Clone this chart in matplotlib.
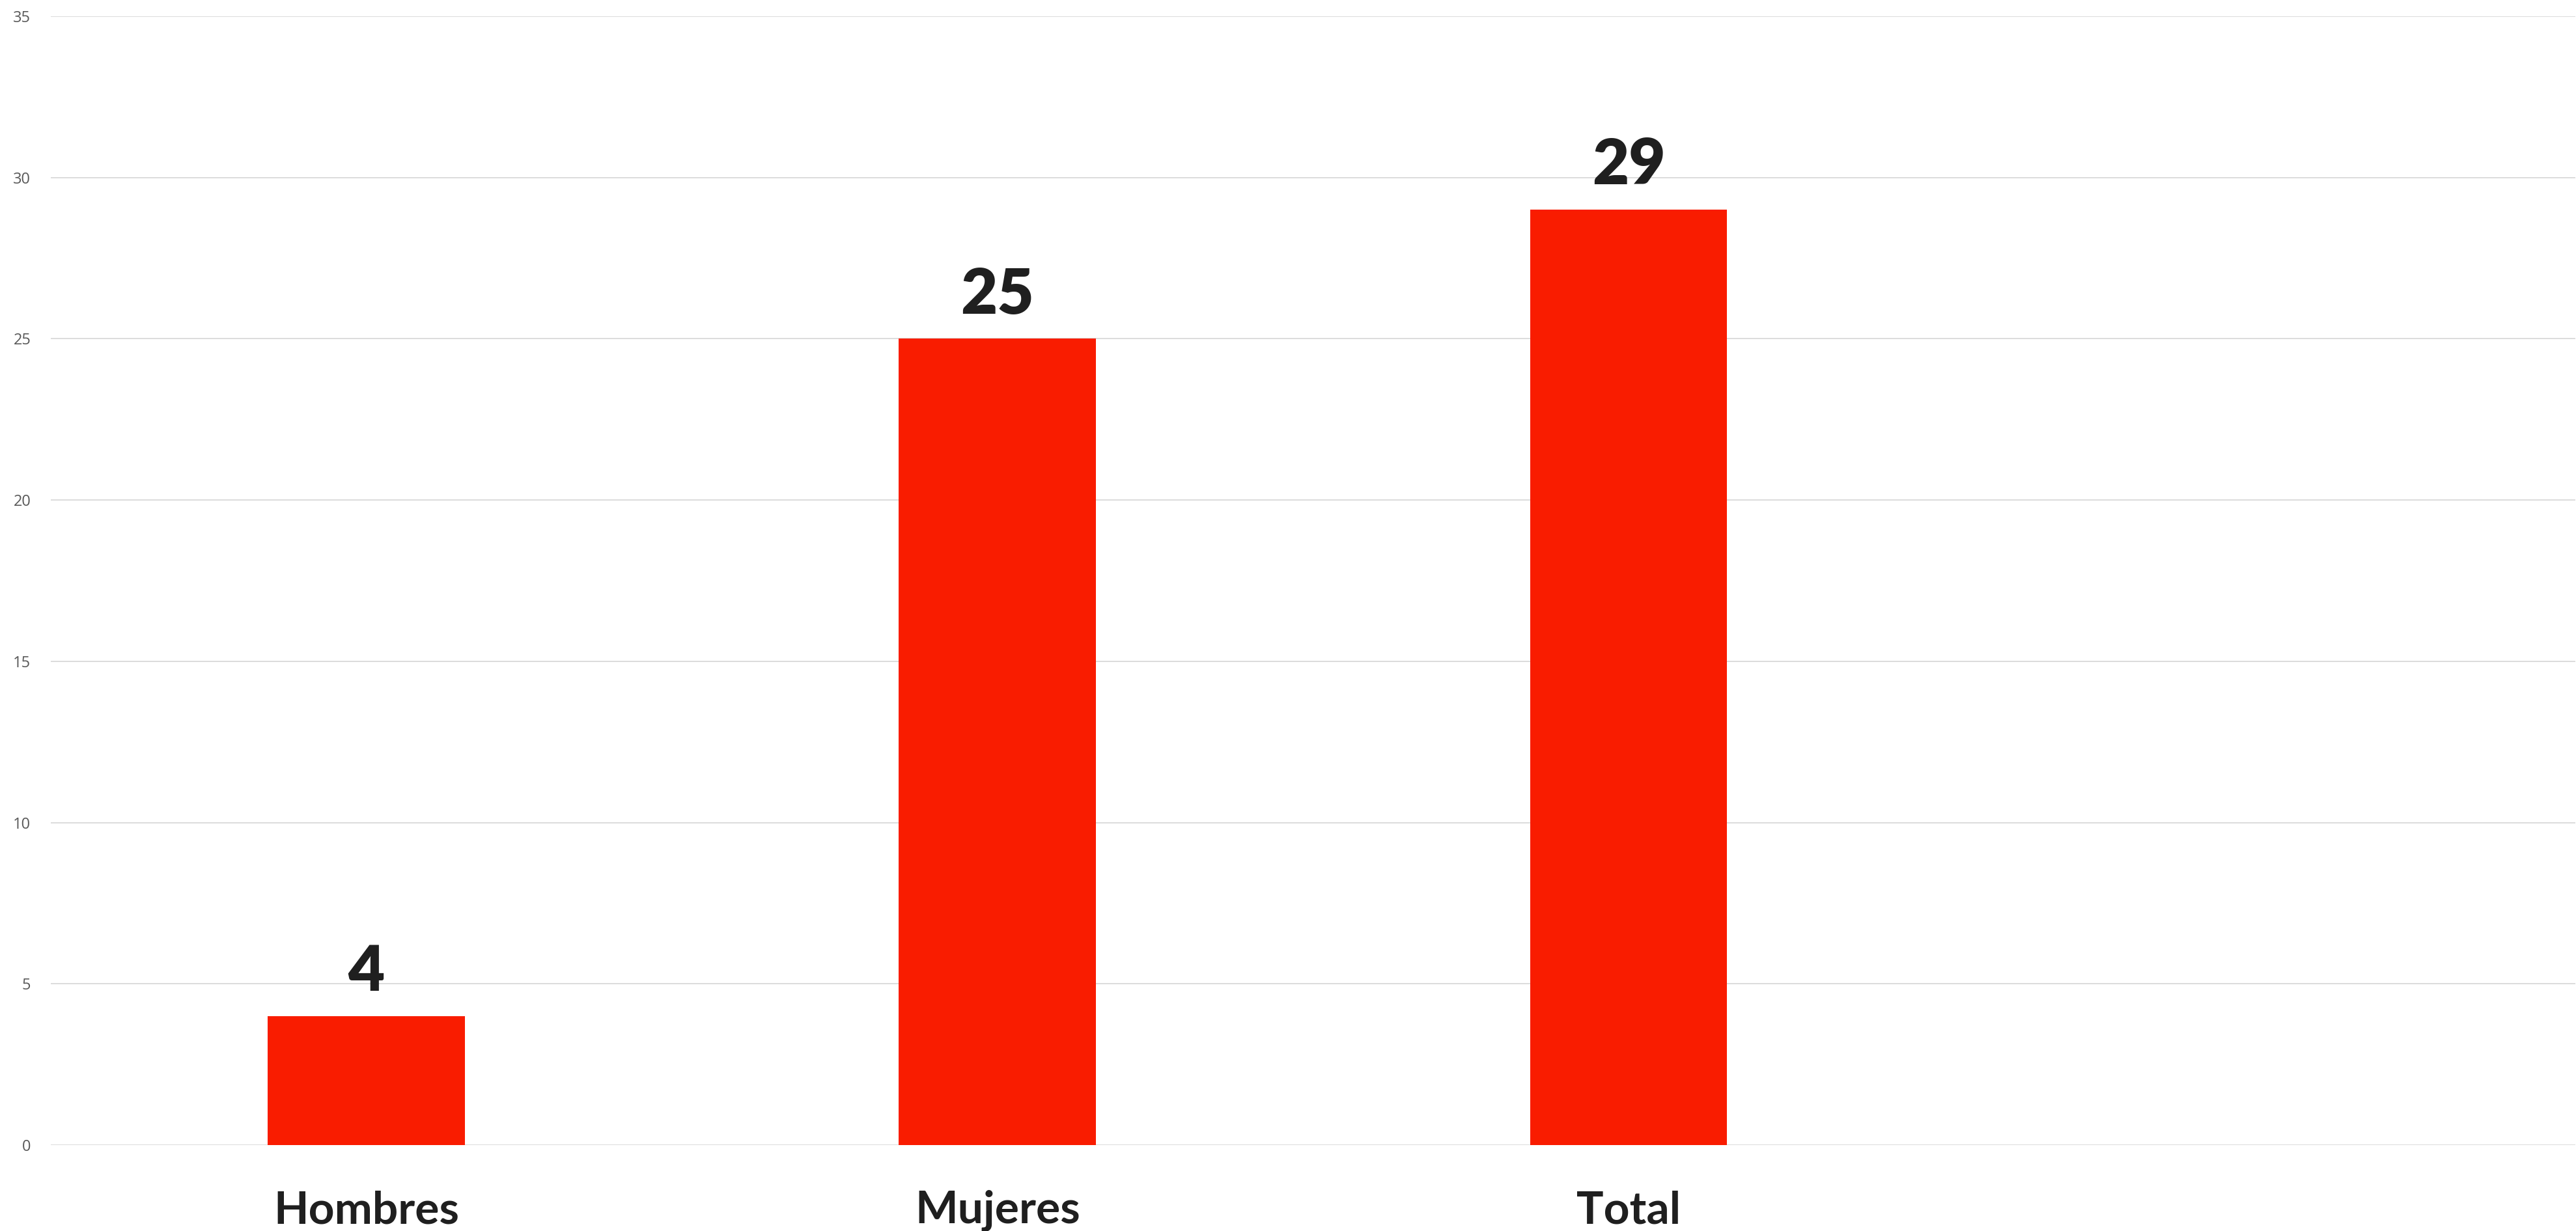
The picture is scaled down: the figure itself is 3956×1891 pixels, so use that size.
import numpy as np
import matplotlib.pyplot as plt

# datos
categorias = ["Hombres", "Mujeres", "Total"]
valores = [4, 25, 29]
n_slots = 4  # hay un hueco vacio a la derecha

rojo = '#F91C00'
gris_texto = '#595959'
gris_rejilla = '#D9D9D9'
negro = '#1F1F1F'

fig = plt.figure(figsize=(39.56, 18.91), dpi=100)
ax = fig.add_axes([0.0197, 0.0698, 0.98, 0.917])

x = np.arange(len(categorias))
ax.bar(x, valores, width=0.3125, color=rojo, zorder=3)

# etiquetas de valor encima de cada barra
for xi, v in zip(x, valores):
    ax.annotate(str(v), (xi, v), xytext=(0, 28), textcoords='offset points',
                ha='center', va='baseline', fontsize=70, fontweight='heavy',
                family='Lato', color=negro)

ax.set_xlim(-0.5, n_slots - 0.5)
ax.set_ylim(0, 35)
ax.set_yticks(np.arange(0, 36, 5))
ax.set_xticks(x)
ax.set_xticklabels(categorias, fontsize=50, fontweight='bold', family='Lato', color=negro)
ax.tick_params(axis='x', length=0, pad=50)
ax.tick_params(axis='y', length=0, pad=22, labelsize=17, labelcolor=gris_texto)
for lab in ax.get_yticklabels():
    lab.set_family('Open Sans')

ax.grid(axis='y', color=gris_rejilla, linewidth=1.3, zorder=0)
for s in ax.spines.values():
    s.set_visible(False)

plt.savefig("out.png", dpi=100, facecolor='white')
